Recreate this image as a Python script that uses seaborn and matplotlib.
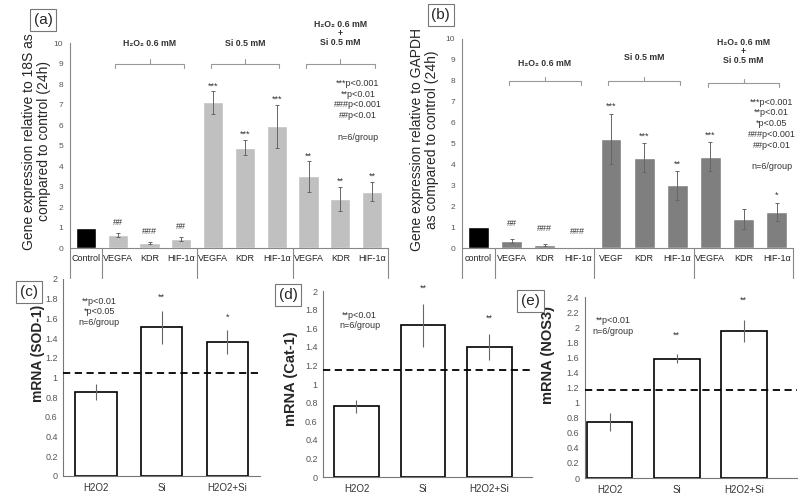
import numpy as np
import pandas as pd
import matplotlib
matplotlib.use('Agg')
import matplotlib.pyplot as plt
import seaborn as sns
from matplotlib.transforms import blended_transform_factory

sns.set_style('white')
plt.rcParams['font.family'] = ['Liberation Sans', 'DejaVu Sans']

# ---- data ----
# top panels: control + three treatment groups x three genes
genes_a = ['Control', 'VEGFA', 'KDR', 'HIF-1α', 'VEGFA', 'KDR', 'HIF-1α', 'VEGFA', 'KDR', 'HIF-1α']
expr_a = [1.0, 0.65, 0.25, 0.45, 7.1, 4.9, 5.95, 3.5, 2.4, 2.75]
err_a = [0, 0.1, 0.05, 0.1, 0.55, 0.38, 1.05, 0.75, 0.6, 0.48]
marks_a = ['', '##', '###', '##', '***', '***', '***', '**', '**', '**']

genes_b = ['control', 'VEGFA', 'KDR', 'HIF-1α', 'VEGF', 'KDR', 'HIF-1α', 'VEGFA', 'KDR', 'HIF-1α']
expr_b = [1.0, 0.33, 0.15, 0.02, 5.22, 4.32, 3.0, 4.36, 1.4, 1.72]
err_b = [0, 0.08, 0.04, 0.0, 1.2, 0.68, 0.68, 0.69, 0.48, 0.45]
marks_b = ['', '##', '###', '###', '***', '***', '**', '***', '', '*']

groups = ['H₂O₂ 0.6 mM', 'Si 0.5 mM', 'H₂O₂ 0.6 mM\n+\nSi 0.5 mM']
group_idx = [(1, 3), (4, 6), (7, 9)]

# bottom panels
treat = ['H2O2', 'Si', 'H2O2+Si']
sod = [0.85, 1.51, 1.36]
sod_err = [0.08, 0.17, 0.12]
sod_marks = ['', '**', '*']
cat = [0.76, 1.63, 1.40]
cat_err = [0.07, 0.23, 0.14]
cat_marks = ['', '**', '**']
nos = [0.74, 1.58, 1.95]
nos_err = [0.12, 0.06, 0.15]
nos_marks = ['', '**', '**']
ref_lines = [1.05, 1.15, 1.17]

fig = plt.figure(figsize=(8, 4.98), dpi=100)


def top_panel(rect, genes, vals, errs, marks, color, ylabel, legend, hdr_y, lab_pos, leg_pos, off):
    ax = fig.add_axes(rect)
    ids = [f'{i}_{g}' for i, g in enumerate(genes)]
    df = pd.DataFrame({'id': ids, 'val': vals})
    pal = ['black'] + [color] * (len(ids) - 1)
    sns.barplot(data=df, x='id', y='val', hue='id', palette=pal, legend=False,
                width=0.63, errorbar=None, ax=ax, saturation=1)
    pos = np.arange(len(vals))
    ax.errorbar(pos[1:], vals[1:], yerr=errs[1:], fmt='none', ecolor='#666',
                elinewidth=0.7, capsize=1.5, capthick=0.7)
    for p, v, e, m in zip(pos, vals, errs, marks):
        if m:
            d = off[0] if m[0] == '#' else off[1]
            ax.text(p, v + e + d, m, ha='center', va='center', fontsize=6.5, color='#333')
    ax.set_ylim(0, 10)
    ax.set_xlim(-0.5, len(vals) - 0.5)
    ax.set_yticks(range(0, 11))
    ax.set_xticks(pos)
    ax.set_xticklabels(genes, fontsize=6.5, color='#222')
    ax.tick_params(axis='x', length=0, pad=4)
    ax.tick_params(axis='y', labelsize=6, colors='#555', length=3, direction='out', width=0.6, pad=2)
    ax.set_xlabel('')
    ax.set_ylabel(ylabel, fontsize=10, linespacing=1.1)
    ax.yaxis.set_label_coords(lab_pos, 0.52)
    for s in ['top', 'right']:
        ax.spines[s].set_visible(False)
    for s in ['left', 'bottom']:
        ax.spines[s].set_color('#888')
        ax.spines[s].set_linewidth(0.8)
    tr = blended_transform_factory(ax.transData, ax.transAxes)
    for xs in [-0.5, 0.5, 3.5, 6.5, 9.5]:
        ax.plot([xs, xs], [0, -0.145], transform=tr, color='#888', lw=0.8, clip_on=False)
    for (i0, i1), name, (hy, ty) in zip(group_idx, groups, hdr_y):
        x0, x1 = i0 - 0.08, i1 + 0.08
        xm = (x0 + x1) / 2
        ax.plot([x0, x0, x1, x1], [hy - 0.2, hy, hy, hy - 0.2], color='#999', lw=0.8, clip_on=False)
        ax.plot([xm, xm], [hy, hy + 0.2], color='#999', lw=0.8, clip_on=False)
        ax.text(xm, ty, name, ha='center', va='center', fontsize=6.3, fontweight='bold',
                color='#333', linespacing=1.0)
    ax.text(leg_pos[0], leg_pos[1], legend, ha='center', va='top', fontsize=6.5,
            color='#333', linespacing=1.25)
    return ax


top_panel([0.0875, 0.502, 0.3975, 0.4116], genes_a, expr_a, err_a, marks_a, '#c0c0c0',
          'Gene expression relative to 18S as\ncompared to control (24h)',
          '***p<0.001\n**p<0.01\n###p<0.001\n##p<0.01\n\nn=6/group',
          [(9.0, 10.0), (9.0, 10.0), (9.0, 10.45)], -0.06, (8.55, 8.25), (0.5, 0.25))

top_panel([0.5775, 0.502, 0.414, 0.4197], genes_b, expr_b, err_b, marks_b, '#7f7f7f',
          'Gene expression relative to GAPDH\nas compared to control (24h)',
          '***p<0.001\n**p<0.01\n*p<0.05\n###p<0.001\n##p<0.01\n\nn=6/group',
          [(8.0, 8.85), (8.0, 9.1), (7.9, 9.4)], -0.07, (8.85, 7.2), (0.75, 0.35))


def bottom_panel(rect, vals, errs, marks, ref, ylim, step, xlim, width, ylabel, lfs, lab_xy, note, note_y, off):
    ax = fig.add_axes(rect)
    df = pd.DataFrame({'treat': treat, 'val': vals})
    sns.barplot(data=df, x='treat', y='val', color='white', edgecolor='black',
                linewidth=1.2, width=width, errorbar=None, ax=ax)
    pos = np.arange(len(vals))
    ax.errorbar(pos, vals, yerr=errs, fmt='none', ecolor='#666', elinewidth=0.8,
                capsize=0)
    for p, v, e, m in zip(pos, vals, errs, marks):
        if m:
            ax.text(p, v + e + off, m, ha='center', va='center', fontsize=6.5, color='#333')
    ax.axhline(ref, color='black', ls=(0, (4, 2.5)), lw=1.3, zorder=5)
    ax.set_ylim(0, ylim)
    ax.set_xlim(*xlim)
    ticks = np.round(np.arange(0, ylim + step / 2, step), 2)
    ax.set_yticks(ticks)
    ax.set_yticklabels([f'{t:g}' for t in ticks])
    ax.tick_params(axis='x', length=0, labelsize=7, colors='#333', pad=5)
    ax.tick_params(axis='y', labelsize=6.5, colors='#555', length=4, direction='inout', width=0.7, pad=2)
    ax.set_xlabel('')
    ax.set_ylabel(ylabel, fontsize=lfs, fontweight='bold')
    ax.yaxis.set_label_coords(*lab_xy)
    for s in ['top', 'right']:
        ax.spines[s].set_visible(False)
    for s in ['left', 'bottom']:
        ax.spines[s].set_color('#777')
        ax.spines[s].set_linewidth(0.8)
    ax.text(0.05, note_y, note, ha='center', va='top', fontsize=6.5, color='#333', linespacing=1.25)
    return ax


bottom_panel([0.079, 0.0442, 0.246, 0.3956], sod, sod_err, sod_marks, ref_lines[0], 2, 0.2,
             (-0.5, 2.5), 0.63, 'mRNA (SOD-1)', 10, (-0.095, 0.62),
             '**p<0.01\n*p<0.05\nn=6/group', 1.82, 0.13)
bottom_panel([0.404, 0.042, 0.261, 0.3735], cat, cat_err, cat_marks, ref_lines[1], 2, 0.2,
             (-0.5, 2.64), 0.67, 'mRNA (Cat-1)', 10.5, (-0.12, 0.53),
             '**p<0.01\nn=6/group', 1.79, 0.17)
bottom_panel([0.731, 0.040, 0.265, 0.3635], nos, nos_err, nos_marks, ref_lines[2], 2.4, 0.2,
             (-0.37, 2.79), 0.68, 'mRNA (NOS3)', 10.5, (-0.14, 0.68),
             '**p<0.01\nn=6/group', 2.15, 0.26)

# panel letters in boxes
box = dict(boxstyle='square,pad=0.25', fc='white', ec='#777', lw=0.8)
for lab, x, y in [('(a)', 0.054, 0.96), ('(b)', 0.551, 0.97), ('(c)', 0.036, 0.414),
                  ('(d)', 0.36, 0.408), ('(e)', 0.663, 0.395)]:
    fig.text(x, y, lab, ha='center', va='center', fontsize=11, bbox=box)

fig.savefig('out.png', dpi=100)
